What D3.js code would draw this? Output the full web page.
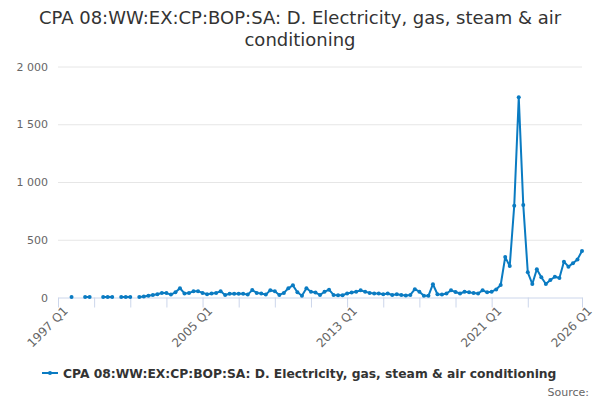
<!DOCTYPE html>
<html>
<head>
<meta charset="utf-8">
<script src="https://cdn.jsdelivr.net/npm/d3@7"></script>
<style>
  body { margin: 0; background: #fff; }
  svg { font-family: "DejaVu Sans", Verdana, sans-serif; }
</style>
</head>
<body>
<svg id="chart" width="600" height="400"></svg>
<script>
// quarterly values, 1997 Q1 .. 2026 Q1 (null = no data)
var firstYear = 1997
var values = [
  null, null, null, 5, null, null, 5, 5,
  null, null, 5, 5, 5, null, 5, 5,
  5, null, 5, 8, 15, 22, 28, 40,
  38, 25, 45, 80, 35, 38, 55, 55,
  40, 28, 35, 38, 55, 22, 32, 32,
  32, 32, 25, 64, 40, 35, 25, 62,
  55, 22, 40, 80, 105, 45, 15, 80,
  50, 43, 22, 50, 68, 22, 20, 20,
  35, 43, 50, 62, 50, 40, 35, 35,
  29, 35, 22, 28, 22, 18, 22, 72,
  50, 15, 15, 115, 28, 25, 35, 62,
  48, 35, 50, 45, 38, 35, 62, 45,
  50, 70, 108, 350, 272, 795, 1733, 800,
  218, 117, 244, 175, 117, 152, 180, 169,
  310, 267, 296, 330, 403
]
var seriesName = 'CPA 08:WW:EX:CP:BOP:SA: D. Electricity, gas, steam & air conditioning'
var tickIndex = [0, 8, 16, 24, 32, 40, 48, 56, 64, 72, 80, 88, 96, 104, 116]
var labelIndex = [0, 32, 64, 96, 116]
var yTicks = [0, 500, 1000, 1500, 2000]

var quarters = values.map(function(d, i){
    return (firstYear + Math.floor(i / 4)) + ' Q' + (i % 4 + 1)
})

var color = '#0a7bc2'
var svg = d3.select('#chart')

var margin = {top: 66.5, right: 18, bottom: 102.5, left: 58}
var width = 600 - margin.left - margin.right,
    height = 400 - margin.top - margin.bottom

var x = d3.scaleLinear()
    .domain([0, values.length - 1])
    .range([margin.left, margin.left + width])

var y = d3.scaleLinear()
    .domain([0, 2000])
    .range([margin.top + height, margin.top])

// title
svg.append('text')
    .attr('x', 300).attr('y', 24)
    .attr('text-anchor', 'middle')
    .style('font-size', '18px').style('fill', '#333')
    .text('CPA 08:WW:EX:CP:BOP:SA: D. Electricity, gas, steam & air')
svg.append('text')
    .attr('x', 300).attr('y', 46)
    .attr('text-anchor', 'middle')
    .style('font-size', '18px').style('fill', '#333')
    .text('conditioning')

// y grid + labels
var yAxis = svg.append('g')
    .attr('transform', 'translate(' + margin.left + ',0)')
    .call(d3.axisLeft(y)
        .tickValues(yTicks)
        .tickSize(-width)
        .tickPadding(10)
        .tickFormat(function(d){ return d3.format(',')(d).replace(',', ' ') }))
yAxis.select('.domain').remove()
yAxis.selectAll('line').attr('stroke', '#e6e6e6')
yAxis.selectAll('line').filter(function(d){ return d === 0 }).remove()
yAxis.selectAll('text')
    .style('font-size', '11px').style('fill', '#666')
    .style('font-family', '"DejaVu Sans", Verdana, sans-serif')

// x axis
var xAxis = svg.append('g')
    .attr('transform', 'translate(0,' + y(0) + ')')
    .call(d3.axisBottom(x)
        .tickValues(tickIndex)
        .tickSize(10)
        .tickSizeOuter(0)
        .tickFormat(function(d){ return labelIndex.indexOf(d) >= 0 ? quarters[d] : '' }))
xAxis.select('.domain').attr('stroke', '#ccd6eb')
xAxis.selectAll('line').attr('stroke', '#ccd6eb')
xAxis.selectAll('text')
    .attr('transform', 'translate(-5,-1)rotate(-45)')
    .style('text-anchor', 'end')
    .style('font-size', '12px').style('fill', '#666')
    .style('font-family', '"DejaVu Sans", Verdana, sans-serif')

// line
var line = d3.line()
    .defined(function(d){ return d != null })
    .x(function(d, i){ return x(i) })
    .y(function(d){ return y(d) })

svg.append('path')
    .datum(values)
    .attr('d', line)
    .attr('fill', 'none')
    .attr('stroke', color)
    .attr('stroke-width', 2)
    .attr('stroke-linejoin', 'round')

var pts = values.map(function(d, i){ return {i: i, v: d} })
    .filter(function(d){ return d.v != null })
svg.selectAll('circle.pt')
    .data(pts)
    .enter()
    .append('circle')
    .attr('class', 'pt')
    .attr('cx', function(d){ return x(d.i) })
    .attr('cy', function(d){ return y(d.v) })
    .attr('r', 2)
    .attr('fill', color)

// legend
var lg = svg.append('g').attr('transform', 'translate(42,373)')
lg.append('line')
    .attr('x1', 0).attr('x2', 16).attr('y1', 0).attr('y2', 0)
    .attr('stroke', color).attr('stroke-width', 2)
lg.append('circle').attr('cx', 8).attr('cy', 0).attr('r', 2).attr('fill', color)
lg.append('text')
    .attr('x', 21).attr('y', 4.5)
    .style('font-size', '12.3px').style('font-weight', 'bold').style('fill', '#333')
    .text(seriesName)

svg.append('text')
    .attr('x', 589).attr('y', 396)
    .attr('text-anchor', 'end')
    .style('font-size', '11px').style('fill', '#666')
    .text('Source:')
</script>
</body>
</html>
